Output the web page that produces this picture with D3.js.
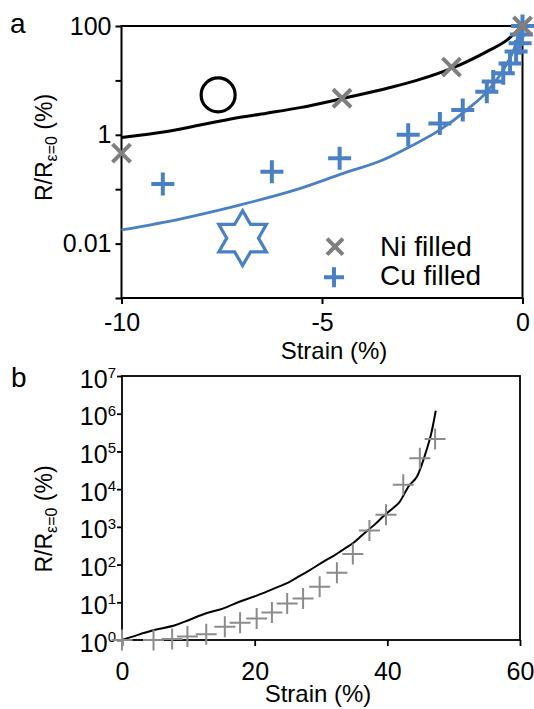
<!DOCTYPE html>
<html>
<head>
<meta charset="utf-8">
<script src="https://cdn.jsdelivr.net/npm/d3@7"></script>
<style>
  body { margin: 0; background: #fff; }
  text { font-family: "Liberation Sans", Arial, sans-serif; }
</style>
</head>
<body>
<div id="chart"></div>
<script>
// ---- panel a data ----
var niFitX = [-10, -8.87, -8.04, -7.21, -6.38, -5.55, -4.47, -3.3, -2.64, -1.77, -0.89, -0.39, -0.06, 0];
var niFitY = [0.89, 1.15, 1.51, 2.0, 2.5, 3.16, 4.68, 7.41, 10.0, 16.6, 33.9, 55.0, 91.2, 100];
var cuFitX = [-10, -8.46, -7.21, -5.6, -4.47, -3.47, -2.81, -2.06, -1.39, -0.89, -0.48, -0.19, -0.06, 0];
var cuFitY = [0.0178, 0.0292, 0.0479, 0.1, 0.195, 0.347, 0.603, 1.23, 2.88, 6.17, 15.5, 41.7, 85.1, 100];
var niX = [-10, -4.5, -1.77, 0];
var niY = [0.46, 4.7, 17.5, 100];
var cuX = [-8.97, -6.25, -4.56, -2.85, -2.06, -1.49, -0.89, -0.73, -0.48, -0.31, -0.16, -0.06, -0.03, 0];
var cuY = [0.125, 0.21, 0.37, 1.0, 1.62, 2.86, 6.2, 9.5, 13.5, 20.4, 34, 48, 70, 100];
var aXTicks = [-10, -5, 0];
var aYTicks = [100, 10, 1, 0.1, 0.01, 0.001];
var aYLabels = ["100", "", "1", "", "0.01", ""];
var legendNames = ["Ni filled", "Cu filled"];
// annotation symbols (data coordinates)
var circleAt = [-7.59, 5.4];
var starAt = [-6.98, 0.0126];

// ---- panel b data ----
var bFitX = [0, 2.3, 5.0, 8.1, 10.1, 12.7, 15.2, 17.8, 20.3, 22.9, 25.4, 26.8, 28.0, 30.5, 31.9, 33.1, 34.9, 36.2, 38.2, 39.4, 40.8, 41.8, 43.3, 44.5, 45.9, 46.6, 47.3];
var bFitY = [1, 1.35, 1.86, 2.5, 3.4, 5.1, 6.8, 10.5, 15, 23, 36, 50, 66, 123, 170, 234, 380, 600, 1200, 1900, 3090, 4470, 12600, 22000, 107000, 288000, 1200000];
var bX = [0, 4.75, 7.56, 9.86, 12.7, 15.5, 17.8, 20.3, 22.6, 24.9, 27.3, 29.8, 32.4, 34.8, 37.3, 39.8, 42.4, 44.9, 47.2];
var bY = [1, 1, 1.07, 1.23, 1.41, 2.24, 2.88, 3.72, 5.37, 9.33, 12.6, 26, 60.3, 191, 800, 2090, 13000, 66000, 214000];
var bXTicks = [0, 20, 40, 60];
var bYTicks = [1, 10, 100, 1e3, 1e4, 1e5, 1e6, 1e7];

var blue = "#4a80c4";

var svg = d3.select("#chart").append("svg")
       .attr("width", 534)
       .attr("height", 709);

function yTitle(x, y) {
       var t = svg.append("text")
              .attr("transform", "translate(" + x + "," + y + ") rotate(-90)")
              .attr("text-anchor", "middle")
              .style("font-size", "23px");
       t.append("tspan").text("R/R");
       t.append("tspan").attr("dy", 5).style("font-size", "16px").text("ε=0");
       t.append("tspan").attr("dy", -5).text(" (%)");
}

// ================= panel a =================
var xa = d3.scaleLinear().domain([-10, 0]).range([121.5, 522.5]);
var ya = d3.scaleLog().domain([0.001, 100]).range([298, 26]);

svg.append("rect")
       .attr("x", xa(-10)).attr("y", ya(100))
       .attr("width", xa(0) - xa(-10)).attr("height", ya(0.001) - ya(100))
       .attr("fill", "none").attr("stroke", "#000").attr("stroke-width", 2);

var axA = svg.append("g")
       .attr("transform", "translate(0," + ya(0.001) + ")")
       .call(d3.axisBottom(xa).tickValues(aXTicks).tickSize(6).tickSizeOuter(0).tickPadding(9)
              .tickFormat(d => String(d)));
var ayA = svg.append("g")
       .attr("transform", "translate(" + xa(-10) + ",0)")
       .call(d3.axisLeft(ya).tickValues(aYTicks).tickSize(6).tickSizeOuter(0).tickPadding(4)
              .tickFormat((d, i) => aYLabels[i]));
[axA, ayA].forEach(g => {
       g.select(".domain").remove();
       g.selectAll(".tick line").attr("stroke-width", 2);
       g.selectAll(".tick text").style("font-size", "25px").attr("fill", "#000")
              .style("font-family", "'Liberation Sans', Arial, sans-serif");
});

var lineA = d3.line().curve(d3.curveMonotoneX)
       .x(d => xa(d[0])).y(d => ya(d[1]));

svg.append("path")
       .attr("d", lineA(d3.zip(niFitX, niFitY)))
       .attr("fill", "none").attr("stroke", "#000").attr("stroke-width", 3);
svg.append("path")
       .attr("d", lineA(d3.zip(cuFitX, cuFitY)))
       .attr("fill", "none").attr("stroke", blue).attr("stroke-width", 2.8);

function cross(s) {
       return "M" + (-s) + "," + (-s) + "L" + s + "," + s + "M" + (-s) + "," + s + "L" + s + "," + (-s);
}
function plus(s) {
       return "M" + (-s) + ",0L" + s + ",0M0," + (-s) + "L0," + s;
}

svg.append("g").selectAll("path")
       .data(d3.zip(cuX, cuY))
       .enter().append("path")
       .attr("transform", d => "translate(" + xa(d[0]) + "," + ya(d[1]) + ")")
       .attr("d", plus(11.5))
       .attr("stroke", blue).attr("stroke-width", 4).attr("fill", "none");

svg.append("g").selectAll("path")
       .data(d3.zip(niX, niY))
       .enter().append("path")
       .attr("transform", d => "translate(" + xa(d[0]) + "," + ya(d[1]) + ")")
       .attr("d", cross(9))
       .attr("stroke", "#7f7f7f").attr("stroke-width", 4).attr("fill", "none");

// annotation symbols
svg.append("circle")
       .attr("cx", xa(circleAt[0])).attr("cy", ya(circleAt[1])).attr("r", 17)
       .attr("fill", "none").attr("stroke", "#000").attr("stroke-width", 3.2);

var starPts = d3.range(12).map(i => {
       var r = i % 2 == 0 ? 27.5 : 27.5 / Math.sqrt(3);
       var a = i * Math.PI / 6;
       return [xa(starAt[0]) + r * Math.sin(a), ya(starAt[1]) - r * Math.cos(a)];
});
svg.append("path")
       .attr("d", "M" + starPts.join("L") + "Z")
       .attr("fill", "none").attr("stroke", blue).attr("stroke-width", 3.2)
       .attr("stroke-linejoin", "miter");

// legend
var leg = svg.append("g");
leg.append("path").attr("transform", "translate(335,246.7)").attr("d", cross(8))
       .attr("stroke", "#7f7f7f").attr("stroke-width", 4);
leg.append("path").attr("transform", "translate(334,277.3)").attr("d", plus(10))
       .attr("stroke", blue).attr("stroke-width", 4);
leg.selectAll("text").data(legendNames).enter().append("text")
       .attr("x", 380).attr("y", (d, i) => 256 + i * 29)
       .style("font-size", "28px")
       .text(d => d);

svg.append("text").attr("x", 334).attr("y", 359).attr("text-anchor", "middle")
       .style("font-size", "24px").text("Strain (%)");
yTitle(52, 147.5);
svg.append("text").attr("x", 10).attr("y", 33).style("font-size", "28px").text("a");

// ================= panel b =================
var xb = d3.scaleLinear().domain([0, 60]).range([122, 520]);
var yb = d3.scaleLog().domain([1, 1e7]).range([640, 376]);

svg.append("rect")
       .attr("x", xb(0)).attr("y", yb(1e7))
       .attr("width", xb(60) - xb(0)).attr("height", yb(1) - yb(1e7))
       .attr("fill", "none").attr("stroke", "#000").attr("stroke-width", 1.8);

var axB = svg.append("g")
       .attr("transform", "translate(0," + yb(1) + ")")
       .call(d3.axisBottom(xb).tickValues(bXTicks).tickSize(6).tickSizeOuter(0).tickPadding(16)
              .tickFormat(d => String(d)));
var ayB = svg.append("g")
       .attr("transform", "translate(" + xb(0) + ",0)")
       .call(d3.axisLeft(yb).tickValues(bYTicks).tickSize(5).tickSizeOuter(0).tickPadding(1));
[axB, ayB].forEach(g => {
       g.select(".domain").remove();
       g.selectAll(".tick line").attr("stroke-width", 1.8);
       g.selectAll(".tick text").style("font-size", "25px").attr("fill", "#000")
              .style("font-family", "'Liberation Sans', Arial, sans-serif");
});
ayB.selectAll(".tick text").each(function (d) {
       var t = d3.select(this);
       t.text(null).attr("dy", null).attr("y", 11).style("font-size", "25px");
       t.append("tspan").text("10");
       t.append("tspan").attr("dy", -9.5).style("font-size", "15px")
              .text(Math.round(Math.log10(d)));
});

var lineB = d3.line().curve(d3.curveMonotoneX)
       .x(d => xb(d[0])).y(d => yb(d[1]));
svg.append("path")
       .attr("d", lineB(d3.zip(bFitX, bFitY)))
       .attr("fill", "none").attr("stroke", "#000").attr("stroke-width", 2);

svg.append("g").selectAll("path")
       .data(d3.zip(bX, bY))
       .enter().append("path")
       .attr("transform", d => "translate(" + xb(d[0]) + "," + yb(d[1]) + ")")
       .attr("d", plus(10.5))
       .attr("stroke", "#8c8c8c").attr("stroke-width", 2).attr("fill", "none");

svg.append("text").attr("x", 318).attr("y", 702).attr("text-anchor", "middle")
       .style("font-size", "24px").text("Strain (%)");
yTitle(52, 519);
svg.append("text").attr("x", 11).attr("y", 387).style("font-size", "28px").text("b");
</script>
</body>
</html>
